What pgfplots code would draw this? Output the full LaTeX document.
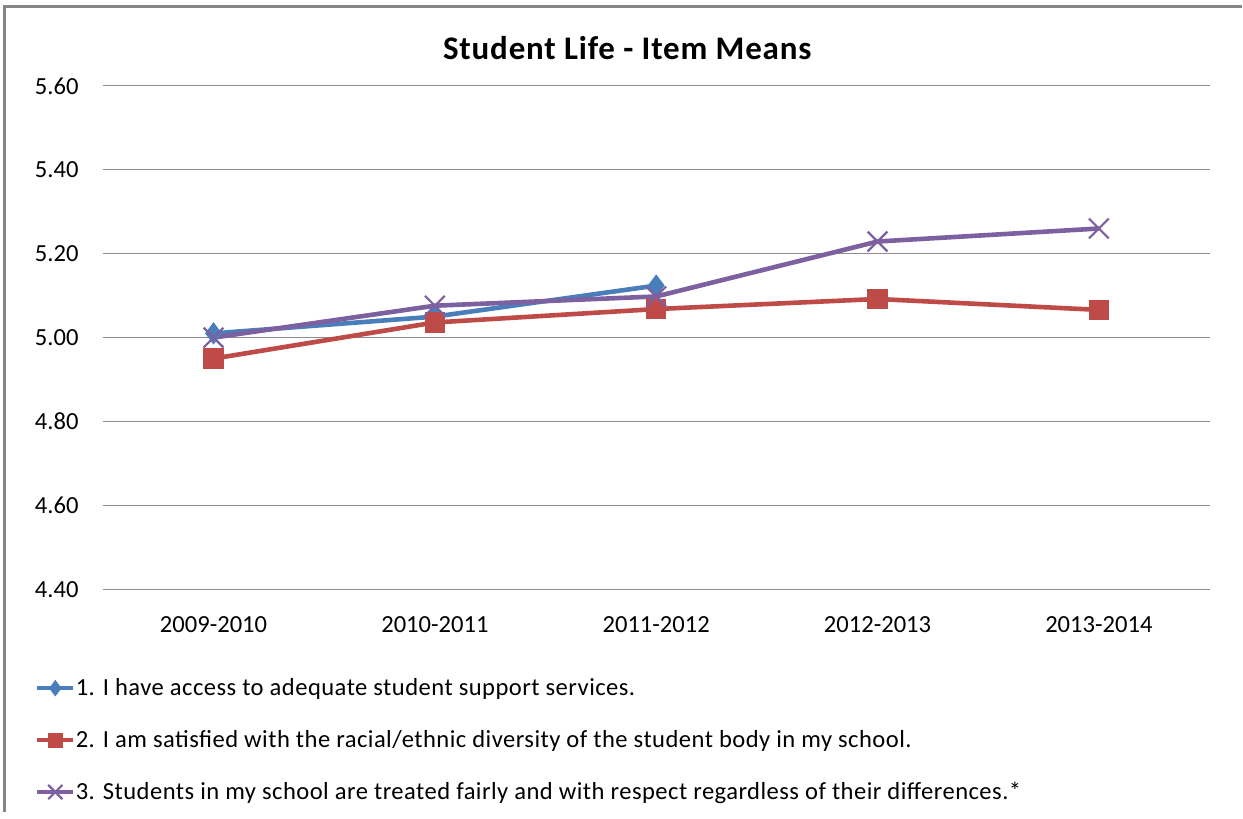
\documentclass[border=0pt]{standalone}
\usepackage{pgfplots}
\pgfplotsset{compat=1.18}
\usepackage{fontspec}
\setmainfont{Carlito}
\newfontfamily\titlefont[LetterSpace=2.5]{Carlito}
\newfontfamily\legfont[LetterSpace=1.9]{Carlito}
\definecolor{sA}{HTML}{4A7EBB}
\definecolor{sB}{HTML}{BE4B48}
\definecolor{sC}{HTML}{7D60A0}
\definecolor{gridc}{HTML}{8C8C8C}
\definecolor{framec}{HTML}{868686}
\begin{document}
\begin{tikzpicture}
\path (0pt,0pt) rectangle (621.5pt,406.5pt);
\draw[color=framec, line width=1.5pt] (2.5pt,0pt) -- (2.5pt,403pt) -- (621.5pt,403pt);
\node[font=\titlefont\bfseries\fontsize{16.5}{19}\selectfont] at (314pt,382.5pt) {Student Life - Item Means};
\begin{axis}[
  at={(51.5pt,111.5pt)}, anchor=south west,
  scale only axis, width=554pt, height=252pt,
  xmin=-0.5, xmax=4.5, ymin=4.4, ymax=5.6,
  xtick={0,1,2,3,4},
  xticklabels={2009-2010,2010-2011,2011-2012,2012-2013,2013-2014},
  ytick={4.4,4.6,4.8,5.0,5.2,5.4,5.6},
  /pgf/number format/fixed, /pgf/number format/fixed zerofill,
  /pgf/number format/precision=2, /pgf/number format/assume math mode=true,
  ticklabel style={font=\fontsize{12.3}{14}\selectfont, inner sep=0pt},
  y tick label style={anchor=east, xshift=-12pt},
  x tick label style={anchor=north, yshift=-13.5pt},
  major tick length=0pt,
  axis line style={draw=none},
  ymajorgrids, grid style={color=gridc, line width=0.6pt},
  clip=false,
  legend style={at={(-0.0615,-0.1449)}, anchor=north west, draw=none, fill=none,
    inner sep=0pt, outer sep=0pt, row sep=0pt,
    font=\legfont\fontsize{12.3}{14}\selectfont,
    nodes={minimum height=26pt, inner sep=0pt, anchor=west}},
  legend cell align=left,
  legend image code/.code={\draw[mark repeat=2,mark phase=2, every mark/.append style={scale=0.72}] plot coordinates {(0cm,0cm) (0.32cm,0cm) (0.64cm,0cm)};},
]
\addplot[color=sA, line width=2.3pt, mark=diamond*, mark size=5.2pt, mark options={fill=sA, line width=0.5pt}]
  coordinates {(0,5.010) (1,5.050) (2,5.124)};
\addlegendentry{1. I have access to adequate student support services.}
\addplot[color=sB, line width=2.3pt, mark=square*, mark size=4.8pt, mark options={fill=sB, line width=0.5pt}]
  coordinates {(0,4.950) (1,5.036) (2,5.068) (3,5.092) (4,5.066)};
\addlegendentry{2. I am satisfied with the racial/ethnic diversity of the student body in my school.}
\addplot[color=sC, line width=2.3pt, mark=x, mark size=7pt, mark options={line width=1.1pt}]
  coordinates {(0,5.000) (1,5.076) (2,5.098) (3,5.229) (4,5.260)};
\addlegendentry{3. Students in my school are treated fairly and with respect regardless of their differences.*}
\end{axis}
\end{tikzpicture}
\end{document}
